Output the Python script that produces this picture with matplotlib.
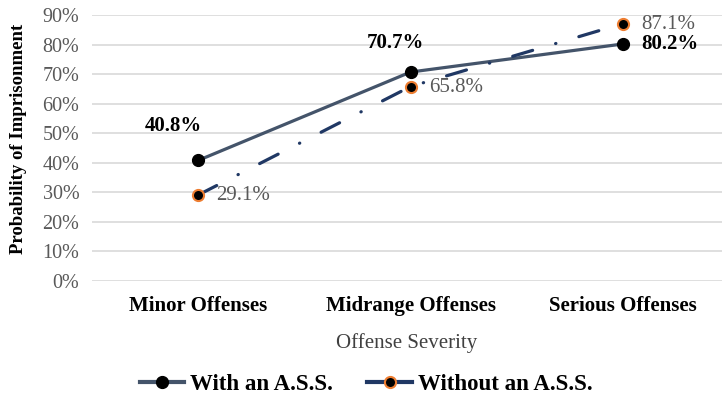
import matplotlib.pyplot as plt
from matplotlib.lines import Line2D
from matplotlib.ticker import PercentFormatter

plt.rcParams['font.family'] = ['Liberation Serif', 'DejaVu Serif']

categories = ['Minor Offenses', 'Midrange Offenses', 'Serious Offenses']
with_ass = [40.8, 70.7, 80.2]
without_ass = [29.1, 65.8, 87.1]
y_ticks = [0, 10, 20, 30, 40, 50, 60, 70, 80, 90]

gray_blue = '#44546A'
navy = '#203864'
orange = '#ED7D31'

fig = plt.figure(figsize=(7.22, 4.01), dpi=100)
ax = fig.add_axes([0.1274, 0.2993, 0.8726, 0.6633])

x = list(range(len(categories)))
ax.plot(x, with_ass, color=gray_blue, lw=2.3, solid_capstyle='round',
        marker='o', ms=8.5, mfc='black', mec='black', zorder=3)
ax.plot(x, without_ass, color=navy, lw=2.3, linestyle=(0, (6.5, 7.5, 0.1, 7.5)),
        dash_capstyle='round', marker='o', ms=8, mfc='black', mec=orange,
        mew=1.5, zorder=3)

# value labels
ax.annotate(f'{with_ass[0]:.1f}%', (x[0], with_ass[0]), xytext=(-18, 25),
            textcoords='offset points', ha='center', va='center',
            fontsize=15, fontweight='bold', color='black')
ax.annotate(f'{with_ass[1]:.1f}%', (x[1], with_ass[1]), xytext=(-11, 21),
            textcoords='offset points', ha='center', va='center',
            fontsize=15, fontweight='bold', color='black')
ax.annotate(f'{with_ass[2]:.1f}%', (x[2], with_ass[2]), xytext=(13, 0),
            textcoords='offset points', ha='left', va='center',
            fontsize=15, fontweight='bold', color='black')
for i in range(3):
    ax.annotate(f'{without_ass[i]:.1f}%', (x[i], without_ass[i]), xytext=(13, -0.5),
                textcoords='offset points', ha='left', va='center',
                fontsize=15, color='#595959')

ax.set_xlim(-0.5, 2.466)
ax.set_ylim(0, 90)
ax.set_yticks(y_ticks)
ax.yaxis.set_major_formatter(PercentFormatter(decimals=0))
ax.set_xticks(x)
ax.set_xticklabels(categories, fontsize=15, fontweight='bold')
ax.tick_params(axis='y', labelsize=14.5, labelcolor='#595959', length=0, pad=9)
ax.tick_params(axis='x', length=0, pad=11)
ax.grid(axis='y', color='#D9D9D9', lw=1.2)
ax.set_axisbelow(True)
for s in ax.spines.values():
    s.set_visible(False)

ax.set_xlabel('Offense Severity', fontsize=15, color='#404040', labelpad=12)
ax.set_ylabel('Probability of Imprisonment', fontsize=13.5, fontweight='bold')
ax.yaxis.set_label_coords(-0.103, 0.535)

handles = [
    Line2D([], [], color=gray_blue, lw=3, marker='o', ms=8.5, mfc='black', mec='black'),
    Line2D([], [], color=navy, lw=3, marker='o', ms=8, mfc='black', mec=orange, mew=1.5),
]
fig.legend(handles, ['With an A.S.S.', 'Without an A.S.S.'], loc='center',
           bbox_to_anchor=(0.507, 0.04), ncol=2, frameon=False, handlelength=1.95,
           handletextpad=0.25, columnspacing=1.5,
           prop={'size': 16.5, 'weight': 'bold'})

fig.savefig('out.png', dpi=100)
